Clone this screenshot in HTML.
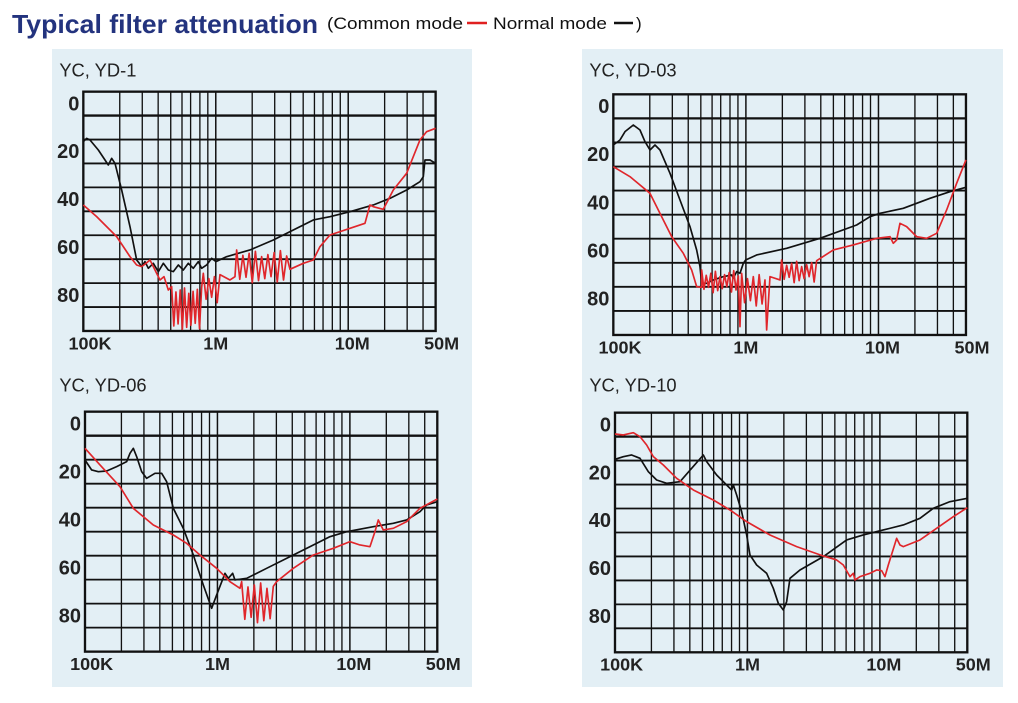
<!DOCTYPE html>
<html><head><meta charset="utf-8"><style>
html,body{margin:0;padding:0;background:#fff;width:1018px;height:703px;overflow:hidden}
svg{display:block}
</style></head><body>
<svg id="s" width="1018" height="703" xmlns="http://www.w3.org/2000/svg">
<rect x="52" y="49" width="420" height="638" fill="#e3eff5"/>
<rect x="582" y="49" width="421" height="638" fill="#e3eff5"/>
<text x="12" y="33" font-family="Liberation Sans, sans-serif" font-weight="bold" font-size="26" fill="#23337e" textLength="306" lengthAdjust="spacingAndGlyphs">Typical filter attenuation</text>
<text x="327" y="29" font-family="Liberation Sans, sans-serif" font-size="17" fill="#111" textLength="136" lengthAdjust="spacingAndGlyphs">(Common mode</text>
<text x="493" y="29" font-family="Liberation Sans, sans-serif" font-size="17" fill="#111" textLength="114" lengthAdjust="spacingAndGlyphs">Normal mode</text>
<text x="636" y="29" font-family="Liberation Sans, sans-serif" font-size="17" fill="#111">)</text>
<line x1="467" y1="23" x2="487" y2="23" stroke="#e02020" stroke-width="2.5"/>
<line x1="614" y1="23" x2="633" y2="23" stroke="#111" stroke-width="2.5"/>
<g id="g"></g>
</svg>
<script>
function zig(x1,x2,lo,hi,n){var p=[];for(var i=0;i<=n;i++){p.push([x1+(x2-x1)*i/n,(i%2?hi:lo)+((i*37)%11-5)*2]);}return p;}
var panels=[
{o:[40,50],b:[130,1187,125,843],t:"YC, YD-1",
 k:[[130,275],[140,265],[150,270],[175,300],[205,345],[215,325],[225,340],[245,420],[270,530],[290,630],[298,640],[305,650],[315,635],[325,655],[340,640],[355,665],[370,640],[385,660],[400,665],[415,645],[430,660],[445,640],[460,655],[475,635],[485,655],[500,645],[515,625],[528,635],[560,620],[630,600],[700,570],[760,540],[820,510],[870,500],[930,485],[1000,465],[1050,445],[1100,420],[1140,395],[1150,380],[1155,330],[1170,330],[1187,340]],
 r:[[130,465],[170,500],[230,560],[270,620],[290,645],[305,650],[318,640],[330,630],[345,660],[360,690],[372,680],[385,720]].concat(zig(395,485,720,830,14),zig(490,540,680,750,6),[[570,690],[585,680]],zig(590,740,610,690,16),[[750,658],[790,640],[820,630],[840,590],[870,555],[930,535],[975,520],[990,465],[1000,470],[1030,478],[1060,420],[1100,370],[1140,270],[1160,245],[1187,235]])},
{o:[570,50],b:[130,1188,133,855],t:"YC, YD-03",
 k:[[130,285],[150,270],[165,245],[190,225],[210,240],[225,275],[240,300],[255,285],[270,300],[300,370],[330,450],[360,530],[380,600],[390,650],[395,700],[410,700],[430,690],[460,680],[485,675],[490,685],[500,665],[510,670],[515,655],[520,640],[527,630],[560,615],[650,595],[750,565],[860,525],[900,500],[930,490],[1000,475],[1080,445],[1140,425],[1188,412]],
 r:[[130,350],[180,380],[240,430],[270,490],[305,560],[340,610],[365,660],[380,710],[395,712]].concat(zig(395,505,670,720,16),[[510,830]],zig(515,585,680,760,8),[[590,840],[600,680],[630,690]],zig(635,740,640,690,14),[[790,600],[850,585],[920,565],[960,560],[970,580],[980,570],[990,520],[1010,530],[1040,560],[1070,565],[1100,550],[1130,480],[1160,400],[1188,330]])},
{o:[40,365],b:[135,1192,140,860],t:"YC, YD-06",
 k:[[135,285],[155,315],[175,320],[200,318],[230,305],[260,290],[270,265],[280,250],[290,275],[305,320],[320,340],[345,325],[365,325],[380,350],[400,430],[430,490],[460,570],[490,660],[515,730],[530,690],[555,625],[565,640],[578,625],[585,645],[620,640],[680,610],[760,570],[820,540],[870,515],[920,500],[1000,485],[1060,475],[1100,465],[1140,440],[1160,420],[1192,410]],
 r:[[135,250],[180,300],[240,365],[280,430],[340,480],[400,510],[440,535],[480,570],[530,610],[570,650],[600,670]].concat(zig(605,700,660,765,10),[[710,650],[760,610],[820,570],[880,550],[930,530],[960,540],[990,545],[1005,500],[1015,465],[1030,495],[1060,490],[1100,470],[1140,430],[1192,402]])},
{o:[570,365],b:[135,1192,143,862],t:"YC, YD-10",
 k:[[135,283],[160,275],[185,270],[210,280],[235,320],[260,345],[290,355],[330,350],[365,310],[400,270],[410,290],[440,330],[470,360],[485,375],[490,360],[500,390],[515,440],[530,510],[540,570],[560,600],[590,625],[610,670],[625,715],[640,735],[650,710],[660,640],[690,615],[760,575],[830,525],[880,510],[940,495],[1000,480],[1050,460],[1090,430],[1140,410],[1192,400]],
 r:[[135,207],[160,210],[190,203],[210,215],[230,240],[250,275],[280,300],[320,340],[370,375],[430,405],[480,435],[530,470],[600,510],[680,545],[760,573],[800,585],[820,600],[840,635],[850,625],[855,645],[870,635],[900,625],[920,615],[935,617],[945,635],[955,600],[980,520],[990,540],[1000,545],[1050,525],[1100,490],[1150,455],[1192,428]]}
];
var fr=[.275,.445,.565,.66,.745,.81,.88,.94];
var h="";
panels.forEach(function(P){
 var b=P.b,x0=b[0],x1=b[1],y0=b[2],y1=b[3],dec=(x1-x0)/2.66,rh=(y1-y0)/10;
 var s='<g transform="translate('+P.o[0]+','+P.o[1]+') scale(0.3333)">';
 s+='<text x="58" y="80" font-family="Liberation Sans, sans-serif" font-size="55" fill="#222">'+P.t+'</text>';
 for(var d=0;d<3;d++){var xs=x0+d*dec; if(d>0&&xs<x1)s+='<line x1="'+xs+'" y1="'+y0+'" x2="'+xs+'" y2="'+y1+'" stroke="#111" stroke-width="4.5"/>';
  fr.forEach(function(f){var x=xs+f*dec;if(x<x1-8)s+='<line x1="'+x+'" y1="'+y0+'" x2="'+x+'" y2="'+y1+'" stroke="#111" stroke-width="4"/>';});}
 for(var i=1;i<10;i++){var y=y0+i*rh;s+='<line x1="'+x0+'" y1="'+y+'" x2="'+x1+'" y2="'+y+'" stroke="#111" stroke-width="'+(i==1?7:5.5)+'"/>';}
 s+='<rect x="'+x0+'" y="'+y0+'" width="'+(x1-x0)+'" height="'+(y1-y0)+'" fill="none" stroke="#111" stroke-width="7"/>';
 ["0","20","40","60","80"].forEach(function(t,i){s+='<text x="'+(x0-12)+'" y="'+(y0+35+2*rh*i+21)+'" text-anchor="end" font-family="Liberation Sans, sans-serif" font-weight="bold" font-size="60" fill="#222">'+t+'</text>';});
 var xl=[["100K",x0+20],["1M",x0+dec],["10M",x0+2*dec+12],["50M",x1+18]];
 xl.forEach(function(a){s+='<text x="'+a[1]+'" y="'+(y1+55)+'" text-anchor="middle" font-family="Liberation Sans, sans-serif" font-weight="bold" font-size="54" fill="#222">'+a[0]+'</text>';});
 function pl(pts,c){return '<polyline fill="none" stroke="'+c+'" stroke-width="5" stroke-linejoin="round" points="'+pts.map(function(p){return p[0]+','+p[1]}).join(' ')+'"/>';}
 s+=pl(P.k,"#111")+pl(P.r,"#e0262b");
 s+='</g>';h+=s;
});
document.getElementById("g").innerHTML=h;
</script>
</body></html>
